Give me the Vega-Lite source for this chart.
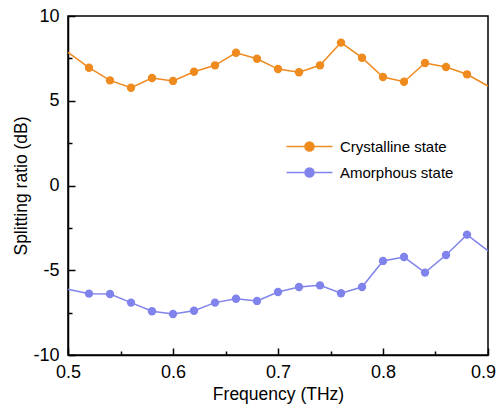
{
  "$schema": "https://vega.github.io/schema/vega-lite/v6.json",
  "width": 420,
  "height": 339,
  "autosize": {"type": "none"},
  "padding": {"left": 68, "top": 16, "right": 9, "bottom": 50},
  "background": "white",
  "config": {
    "view": {"stroke": "black", "strokeWidth": 1.5},
    "font": "Liberation Sans",
    "axis": {"grid": false, "labelFlush": false, "domainColor": "black", "domainWidth": 1.5, "tickColor": "black", "tickWidth": 1.5, "labelColor": "black", "labelFont": "Liberation Sans", "labelFontSize": 18, "titleFont": "Liberation Sans", "titleFontSize": 17.5, "titleFontWeight": "normal", "titleColor": "black"}
  },
  "data": {"values": [
    {"f": 0.50, "v": 7.85, "s": "Crystalline state"},
    {"f": 0.52, "v": 6.95, "s": "Crystalline state"},
    {"f": 0.54, "v": 6.2, "s": "Crystalline state"},
    {"f": 0.56, "v": 5.77, "s": "Crystalline state"},
    {"f": 0.58, "v": 6.34, "s": "Crystalline state"},
    {"f": 0.60, "v": 6.17, "s": "Crystalline state"},
    {"f": 0.62, "v": 6.71, "s": "Crystalline state"},
    {"f": 0.64, "v": 7.09, "s": "Crystalline state"},
    {"f": 0.66, "v": 7.83, "s": "Crystalline state"},
    {"f": 0.68, "v": 7.48, "s": "Crystalline state"},
    {"f": 0.70, "v": 6.87, "s": "Crystalline state"},
    {"f": 0.72, "v": 6.68, "s": "Crystalline state"},
    {"f": 0.74, "v": 7.09, "s": "Crystalline state"},
    {"f": 0.76, "v": 8.43, "s": "Crystalline state"},
    {"f": 0.78, "v": 7.54, "s": "Crystalline state"},
    {"f": 0.80, "v": 6.4, "s": "Crystalline state"},
    {"f": 0.82, "v": 6.12, "s": "Crystalline state"},
    {"f": 0.84, "v": 7.23, "s": "Crystalline state"},
    {"f": 0.86, "v": 6.99, "s": "Crystalline state"},
    {"f": 0.88, "v": 6.56, "s": "Crystalline state"},
    {"f": 0.90, "v": 5.87, "s": "Crystalline state"},
    {"f": 0.50, "v": -6.12, "s": "Amorphous state"},
    {"f": 0.52, "v": -6.38, "s": "Amorphous state"},
    {"f": 0.54, "v": -6.4, "s": "Amorphous state"},
    {"f": 0.56, "v": -6.91, "s": "Amorphous state"},
    {"f": 0.58, "v": -7.42, "s": "Amorphous state"},
    {"f": 0.60, "v": -7.58, "s": "Amorphous state"},
    {"f": 0.62, "v": -7.39, "s": "Amorphous state"},
    {"f": 0.64, "v": -6.91, "s": "Amorphous state"},
    {"f": 0.66, "v": -6.68, "s": "Amorphous state"},
    {"f": 0.68, "v": -6.81, "s": "Amorphous state"},
    {"f": 0.70, "v": -6.28, "s": "Amorphous state"},
    {"f": 0.72, "v": -5.99, "s": "Amorphous state"},
    {"f": 0.74, "v": -5.89, "s": "Amorphous state"},
    {"f": 0.76, "v": -6.36, "s": "Amorphous state"},
    {"f": 0.78, "v": -5.99, "s": "Amorphous state"},
    {"f": 0.80, "v": -4.45, "s": "Amorphous state"},
    {"f": 0.82, "v": -4.22, "s": "Amorphous state"},
    {"f": 0.84, "v": -5.14, "s": "Amorphous state"},
    {"f": 0.86, "v": -4.1, "s": "Amorphous state"},
    {"f": 0.88, "v": -2.9, "s": "Amorphous state"},
    {"f": 0.90, "v": -3.86, "s": "Amorphous state"}
  ]},
  "encoding": {
    "x": {"field": "f", "type": "quantitative", "scale": {"domain": [0.5, 0.9], "nice": false, "zero": false}},
    "y": {"field": "v", "type": "quantitative", "scale": {"domain": [-10, 10], "nice": false, "zero": false}},
    "color": {
      "field": "s", "type": "nominal",
      "scale": {"domain": ["Crystalline state", "Amorphous state"], "range": ["#EF8A1E", "#8183EC"]},
      "legend": {
        "title": null, "orient": "none", "legendX": 234, "legendY": 123,
        "symbolType": "M-5.1,0H5.1M1,0A1,1,0,1,1,-1,0A1,1,0,1,1,1,0Z",
        "symbolSize": 81, "symbolStrokeWidth": 1.5,
        "labelFont": "Liberation Sans", "labelFontSize": 15, "labelColor": "black",
        "labelOffset": 23, "rowPadding": 10
      }
    }
  },
  "layer": [
    {
      "mark": {"type": "line", "strokeWidth": 1.5},
      "encoding": {
        "x": {"field": "f", "type": "quantitative", "title": "Frequency (THz)",
          "axis": {"values": [0.5, 0.6, 0.7, 0.8, 0.9], "format": ".1f", "tickSize": -7, "labelPadding": 15, "titlePadding": 4,
            "labelOffset": {"condition": {"test": "datum.value > 0.85", "value": -5}, "value": 0}}},
        "y": {"field": "v", "type": "quantitative", "title": "Splitting ratio (dB)",
          "axis": {"values": [-10, -5, 0, 5, 10], "tickSize": -7, "labelPadding": 16, "titlePadding": 2,
            "labelExpr": "replace(datum.label, '\u2212', '-')"}}
      }
    },
    {
      "transform": [{"filter": "datum.f > 0.505 && datum.f < 0.895"}],
      "mark": {"type": "point", "filled": true, "opacity": 1, "size": 70},
      "encoding": {
        "x": {"field": "f", "type": "quantitative", "axis": null},
        "y": {"field": "v", "type": "quantitative", "axis": null}
      }
    },
    {
      "mark": {"type": "point", "opacity": 0},
      "encoding": {
        "color": {"value": "transparent"},
        "x": {"field": "f", "type": "quantitative", "axis": {"orient": "bottom", "values": [0.55, 0.65, 0.75, 0.85], "labels": false, "domain": false, "tickSize": -4, "title": null}},
        "y": {"field": "v", "type": "quantitative", "axis": {"orient": "left", "values": [-7.5, -2.5, 2.5, 7.5], "labels": false, "domain": false, "tickSize": -4, "title": null}}
      }
    }
  ],
  "resolve": {"axis": {"x": "independent", "y": "independent"}}
}
